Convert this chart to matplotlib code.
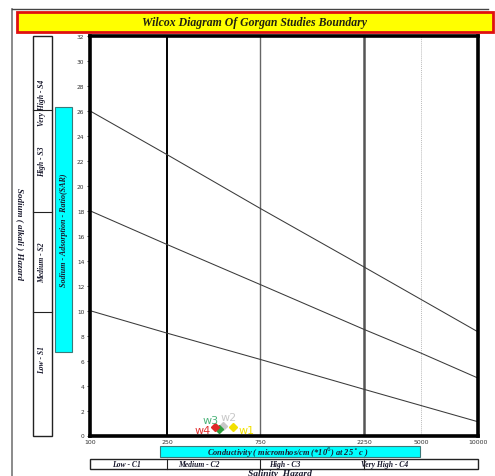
import numpy as np
import matplotlib
matplotlib.use("Agg")
import matplotlib.pyplot as plt
from matplotlib.patches import Rectangle

# ---------------- data ----------------
x_ticks = [100, 250, 750, 2250, 5000, 10000]
x_tick_labels = ["100", "250", "750", "2250", "5000", "10000"]
y_ticks = list(range(0, 33, 2))

# SAR boundary lines read at each conductivity tick
line_s4 = [26.0, 22.5, 18.2, 13.5, 10.9, 8.3]
line_s3 = [18.0, 15.3, 12.1, 8.5, 6.6, 4.6]
line_s2 = [10.0, 8.2, 6.1, 3.7, 2.4, 1.1]

# samples
sample_names = ["w1", "w2", "w3", "w4"]
sample_ec = [546, 485, 462, 440]
sample_sar = [0.68, 0.76, 0.52, 0.68]
sample_colors = ["#f2e000", "#c8c8c8", "#2e9e3e", "#e02828"]
label_colors = ["#f2e000", "#c8c8c8", "#4db37a", "#e03030"]

salinity_classes = ["Low - C1", "Medium - C2", "High - C3", "Very High - C4"]
sodium_classes = ["Low - S1", "Medium - S2", "High - S3", "Very High - S4"]

title = "Wilcox Diagram Of Gorgan Studies Boundary"
xlab = "Conductivity ( micromhos/cm (*10$^6$) at 25$^\\circ$c )"

# ---------------- layout ----------------
W, H = 495, 477
fig = plt.figure(figsize=(W / 100, H / 100), dpi=100)

# overlay in pixel coords (y down)
ov = fig.add_axes([0, 0, 1, 1], zorder=0)
ov.set_xlim(0, W)
ov.set_ylim(H, 0)
ov.axis("off")

L, R, T, B = 90, 478, 37, 436.5
ax = fig.add_axes([L / W, 1 - B / H, (R - L) / W, (B - T) / H], zorder=1)

# piecewise-log x scale anchored at the tick positions
anchor_frac = (np.array([90, 167, 260, 364, 421, 478]) - 90) / 388.0
anchor_log = np.log10(x_ticks)


def fwd(x):
    x = np.asarray(x, dtype=float)
    with np.errstate(divide="ignore", invalid="ignore"):
        lx = np.log10(np.where(x > 0, x, 1e-300))
    return np.interp(lx, anchor_log, anchor_frac, left=-1, right=2)


def inv(f):
    f = np.asarray(f, dtype=float)
    return 10 ** np.interp(f, anchor_frac, anchor_log)


ax.set_xscale("function", functions=(fwd, inv))
ax.set_xlim(100, 10000)
ax.set_ylim(0, 32)

ax.set_xticks(x_ticks)
ax.set_xticklabels(x_tick_labels)
ax.xaxis.set_minor_locator(matplotlib.ticker.NullLocator())
ax.set_yticks(y_ticks)
ax.tick_params(axis="x", length=0, labelsize=4.5, pad=2.5, colors="#333333")
ax.tick_params(axis="y", length=2, width=0.6, labelsize=4.2, pad=2, colors="#333333")
for s in ax.spines.values():
    s.set_linewidth(2.6)
    s.set_color("black")

# vertical class boundaries
ax.axvline(250, color="black", lw=1.4, zorder=1)
ax.axvline(750, color="#666666", lw=1.0, zorder=1)
ax.axvline(2250, color="#555555", lw=1.8, zorder=1)
ax.axvline(5000, color="#bbbbbb", lw=0.7, ls=(0, (1, 1)), zorder=1)

for yv in (line_s4, line_s3, line_s2):
    ax.plot(x_ticks, yv, color="#3a3a3a", lw=0.75, zorder=2)

for i, n in enumerate(sample_names):
    ax.plot(sample_ec[i], sample_sar[i], marker="D", ms=4.5, color=sample_colors[i],
            mec=sample_colors[i], zorder=4, clip_on=False)

offs = {"w1": (4, -2, "left", "center"), "w2": (-2, 3, "left", "bottom"),
        "w3": (0, 3, "right", "bottom"), "w4": (-3, -2, "right", "center")}
for i, n in enumerate(sample_names):
    dx, dy, ha, va = offs[n]
    ax.annotate(n, (sample_ec[i], sample_sar[i]), xytext=(dx, dy), textcoords="offset points",
                ha=ha, va=va, fontsize=8, color=label_colors[i], zorder=5)

serif = "Liberation Serif"
tcol = "#1a1a2e"

# page frame
ov.plot([12, 12], [10, H], color="#777777", lw=1.2)
ov.plot([12, 488], [10, 10], color="#444444", lw=1.0)

# title box
ov.add_patch(Rectangle((17, 13), 476, 20, facecolor="#ffff00", edgecolor="#e01010", lw=2))
ov.text(255, 23, title, ha="center", va="center", fontsize=8.5, family=serif,
        style="italic", weight="bold", color="#202010")

# left label
ov.text(20, 234, "Sodium ( alkali ) Hazard", rotation=-90, ha="center", va="center",
        fontsize=6.5, family=serif, style="italic", weight="bold", color=tcol)

# sodium class box
ov.add_patch(Rectangle((33, 37), 19, 399.5, facecolor="white", edgecolor="#222222", lw=1.0))
for yb in (111, 213, 313):
    ov.plot([33, 52], [yb, yb], color="#222222", lw=0.8)
for lab, yc in zip(sodium_classes, [360, 263, 162, 103]):
    ov.text(42.5, yc, lab, rotation=90, ha="center", va="center", fontsize=5.5,
            family=serif, style="italic", weight="bold", color=tcol)

# SAR cyan box
ov.add_patch(Rectangle((55, 108), 17, 245, facecolor="#00ffff", edgecolor="#3a7a7a", lw=0.8))
ov.text(63.5, 230, "Sodium - Adsorption - Ratio(SAR)", rotation=90, ha="center", va="center",
        fontsize=5.8, family=serif, style="italic", weight="bold", color=tcol)

# conductivity cyan box
ov.add_patch(Rectangle((160, 447), 260, 10.5, facecolor="#00ffff", edgecolor="#3a7a7a", lw=0.8))
ov.text(288, 452.5, xlab, ha="center", va="center", fontsize=6,
        family=serif, style="italic", weight="bold", color=tcol)

# salinity class box
ov.add_patch(Rectangle((90, 459.5), 388, 10.5, facecolor="white", edgecolor="#222222", lw=1.0))
for xb in (167, 260, 364):
    ov.plot([xb, xb], [459.5, 470], color="#222222", lw=0.8)
for lab, xc in zip(salinity_classes, [127, 199, 285, 385]):
    ov.text(xc, 465, lab, ha="center", va="center", fontsize=5.5,
            family=serif, style="italic", weight="bold", color=tcol)

ov.text(280, 470.5, "Salinity  Hazard", ha="center", va="top", fontsize=6.8,
        family=serif, style="italic", weight="bold", color=tcol)

fig.savefig("out.png", dpi=100)
